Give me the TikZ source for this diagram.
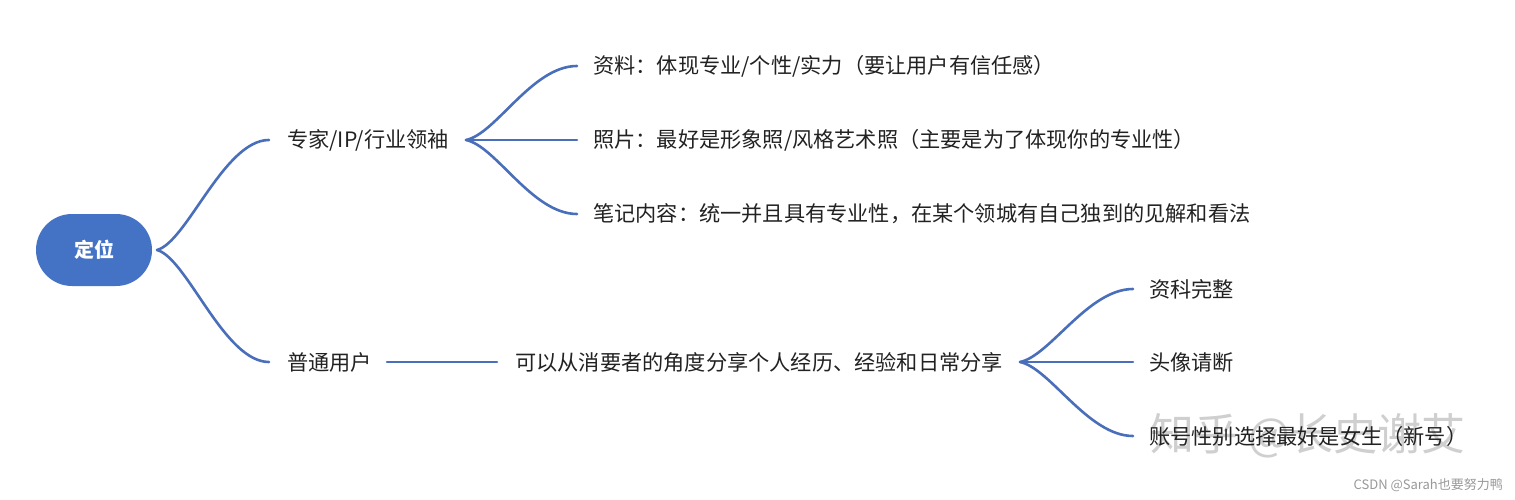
\documentclass[tikz,border=0pt]{standalone}
\usepackage{fontspec}
\setmainfont{Noto Sans CJK SC}
\definecolor{linkblue}{HTML}{4A6FBA}
\definecolor{rootblue}{HTML}{4472C4}
\definecolor{txt}{HTML}{222222}
\tikzset{
  x=1pt, y=-1pt,
  link/.style={draw=linkblue, line width=2.6pt, line cap=round},
  leaf/.style={anchor=west, inner sep=0pt, text=txt, font=\fontsize{21.2}{24}\selectfont},
  rootnode/.style={fill=rootblue, rounded corners=36pt, minimum width=116pt, minimum height=72pt, inner sep=0pt, text=white, font=\fontsize{20}{22}\selectfont\bfseries},
}
\begin{document}
\begin{tikzpicture}
\useasboundingbox (0,0) rectangle (1515,500);
\fill[white] (0,0) rectangle (1515,500);

% watermark (behind)
\node[anchor=west, inner sep=0pt, text=gray!50, opacity=0.75, font=\fontsize{44}{48}\selectfont] (wm) at (1150,436) {知乎 @长史谢艾};

\node[rootnode] (root) at (94,250) {定位};

\node[leaf] (exp) at (287,140) {专家/IP/行业领袖};
\node[leaf] (nor) at (287,362) {普通用户};

\node[leaf] (a1) at (593,66) {资料：体现专业/个性/实力（要让用户有信任感）};
\node[leaf] (a2) at (593,140) {照片：最好是形象照/风格艺术照（主要是为了体现你的专业性）};
\node[leaf] (a3) at (593,214) {笔记内容：统一并且具有专业性，在某个领城有自己独到的见解和看法};

\node[leaf] (mid) at (515,362) {可以从消要者的角度分享个人经历、经验和日常分享};

\node[leaf] (b1) at (1149,289) {资科完整};
\node[leaf] (b2) at (1149,362) {头像请断};
\node[leaf] (b3) at (1149,436) {账号性别选择最好是女生（新号）};

% fork points
\coordinate (f0) at (157,250);
\coordinate (e1) at (269,140);
\coordinate (e2) at (269,362);
\coordinate (f1) at (466,140);
\coordinate (g1) at (577,66);
\coordinate (g2) at (577,140);
\coordinate (g3) at (577,214);
\coordinate (h0) at (387,362);
\coordinate (h1) at (497,362);
\coordinate (f2) at (1020,362);
\coordinate (k1) at (1133,289);
\coordinate (k2) at (1133,362);
\coordinate (k3) at (1133,436);

\draw[link] (f0) .. controls +(30,-8) and +(-45,0) .. (e1);
\draw[link] (f0) .. controls +(30,8) and +(-45,0) .. (e2);

\draw[link] (f1) .. controls +(30,-6) and +(-45,0) .. (g1);
\draw[link] (f1) -- (g2);
\draw[link] (f1) .. controls +(30,6) and +(-45,0) .. (g3);

\draw[link] (h0) -- (h1);

\draw[link] (f2) .. controls +(30,-6) and +(-45,0) .. (k1);
\draw[link] (f2) -- (k2);
\draw[link] (f2) .. controls +(30,6) and +(-45,0) .. (k3);

\node[anchor=east, inner sep=0pt, text=gray!80, font=\fontsize{13}{15}\selectfont] (csdn) at (1503,485) {CSDN @Sarah也要努力鸭};
\end{tikzpicture}
\end{document}
